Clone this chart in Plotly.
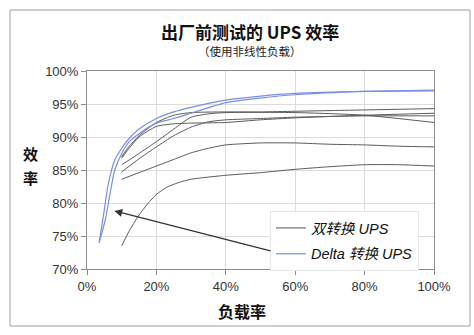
import plotly.graph_objects as go

# Load (%) and efficiency (%)
dc_x = [
    [10, 12, 15, 20, 25, 30, 40, 50, 60, 80, 100],
    [10, 12, 15, 20, 25, 30, 40, 50, 60, 80, 100],
    [10, 15, 20, 25, 30, 35, 40, 60, 80, 100],
    [10, 15, 20, 25, 30, 35, 40, 50, 60, 80, 100],
    [10, 15, 20, 25, 30, 35, 40, 50, 60, 70, 80, 90, 100],
    [10, 12, 15, 18, 20, 23, 27, 30, 40, 50, 60, 70, 80, 90, 100],
]
dc_y = [
    [87.0, 88.5, 90.2, 92.2, 93.3, 93.7, 93.8, 93.8, 93.9, 94.1, 94.3],
    [86.8, 88.2, 90.0, 91.6, 92.0, 92.1, 92.2, 92.6, 92.9, 93.3, 93.6],
    [85.8, 87.5, 89.3, 91.2, 93.0, 93.5, 93.7, 93.7, 93.3, 92.2],
    [84.7, 86.7, 88.5, 90.2, 91.5, 92.3, 92.6, 92.8, 93.0, 93.2, 93.2],
    [83.6, 84.6, 85.6, 86.6, 87.6, 88.3, 88.8, 89.1, 89.1, 88.9, 88.8, 88.6, 88.5],
    [73.5, 75.6, 78.2, 80.2, 81.3, 82.4, 83.2, 83.6, 84.2, 84.6, 85.1, 85.5, 85.8, 85.8, 85.6],
]
delta_x = [
    [3.5, 5, 6, 8, 10, 12, 15, 20, 25, 30, 40, 50, 60, 80, 100],
    [3.5, 5.3, 6.5, 8, 10, 12, 15, 20, 25, 30, 40, 50, 60, 80, 100],
]
delta_y = [
    [74.0, 79.0, 82.5, 86.5, 88.3, 89.7, 91.2, 92.8, 93.8, 94.5, 95.6, 96.2, 96.6, 96.9, 97.0],
    [74.0, 77.5, 81.0, 85.0, 87.5, 89.2, 90.5, 92.1, 92.8, 93.6, 95.2, 95.9, 96.4, 96.9, 97.1],
]
x_ticks = [0, 20, 40, 60, 80, 100]
y_ticks = [70, 75, 80, 85, 90, 95, 100]

names = ["双转换 UPS", "Delta 转换 UPS"]
title = "出厂前测试的 UPS 效率"
subtitle = "（使用非线性负载）"
y_title_chars = ["效", "率"]
x_title = "负载率"

FONT = "Arial, Liberation Sans, Noto Sans CJK SC, sans-serif"
CJK = "Noto Sans CJK SC, sans-serif"

fig = go.Figure()
for i, (xs, ys) in enumerate(zip(dc_x, dc_y)):
    fig.add_trace(go.Scatter(x=xs, y=ys, mode="lines", name=names[0],
                             legendgroup="dc", showlegend=(i == 0),
                             line=dict(color="#5a5a5a", width=1, shape="spline", smoothing=0.6)))
for i, (xs, ys) in enumerate(zip(delta_x, delta_y)):
    fig.add_trace(go.Scatter(x=xs, y=ys, mode="lines", name=names[1],
                             legendgroup="delta", showlegend=(i == 0),
                             line=dict(color="#7b8fe3", width=1.2, shape="spline", smoothing=0.6)))

axis_common = dict(showline=True, linecolor="#8c8c8c", linewidth=1, mirror=True,
                   showgrid=True, gridcolor="#dcdcdc", gridwidth=1,
                   ticks="outside", ticklen=5, tickcolor="#8c8c8c",
                   tickfont=dict(family=FONT, size=13, color="#333333"),
                   zeroline=False, fixedrange=True)

fig.update_xaxes(range=[0, 100], tickvals=x_ticks,
                 ticktext=[f"{v}%" for v in x_ticks], **axis_common)
fig.update_yaxes(range=[70, 100], tickvals=y_ticks,
                 ticktext=[f"{v}%" for v in y_ticks], **axis_common)

W, H = 474, 335
L, R, T, B = 87, 40, 71, 66
pw, ph = W - L - R, H - T - B

def px(xp):
    return (xp - L) / pw

def py(yp):
    return (H - B - yp) / ph

annotations = [
    dict(text=f"<b>{title}</b>", xref="paper", yref="paper", x=px(250), y=py(32),
         showarrow=False, xanchor="center", yanchor="middle",
         font=dict(family=CJK, size=17, color="#111111")),
    dict(text=subtitle, xref="paper", yref="paper", x=px(250), y=py(51),
         showarrow=False, xanchor="center", yanchor="middle",
         font=dict(family=CJK, size=11.5, color="#222222")),
    dict(text=f"<b>{x_title}</b>", xref="paper", yref="paper", x=px(242), y=py(311),
         showarrow=False, xanchor="center", yanchor="middle",
         font=dict(family=CJK, size=16, color="#111111")),
    dict(x=7.9, y=78.8, ax=53.3, ay=72.7, xref="x", yref="y", axref="x", ayref="y",
         text="", showarrow=True, arrowhead=2, arrowsize=1.3, arrowwidth=1.2,
         arrowcolor="#333333"),
]
for ch, yp in zip(y_title_chars, [153, 177]):
    annotations.append(dict(text=f"<b>{ch}</b>", xref="paper", yref="paper", x=px(30), y=py(yp),
                            showarrow=False, xanchor="center", yanchor="middle",
                            font=dict(family=CJK, size=15, color="#111111")))

fig.update_layout(
    width=W, height=H,
    margin=dict(l=L, r=R, t=T, b=B),
    paper_bgcolor="white", plot_bgcolor="white",
    showlegend=True,
    legend=dict(x=px(270), y=py(211), xanchor="left", yanchor="top",
                bgcolor="white", bordercolor="#e6e6e6", borderwidth=1,
                font=dict(family=FONT, size=14.5, color="#111111", style="italic"),
                itemwidth=30, tracegroupgap=4),
    shapes=[dict(type="rect", xref="paper", yref="paper",
                 x0=px(10), x1=px(470), y0=py(326), y1=py(10),
                 line=dict(color="#a0a0a0", width=1), fillcolor="rgba(0,0,0,0)", layer="below")],
    annotations=annotations,
)

fig.write_html("out.html")
